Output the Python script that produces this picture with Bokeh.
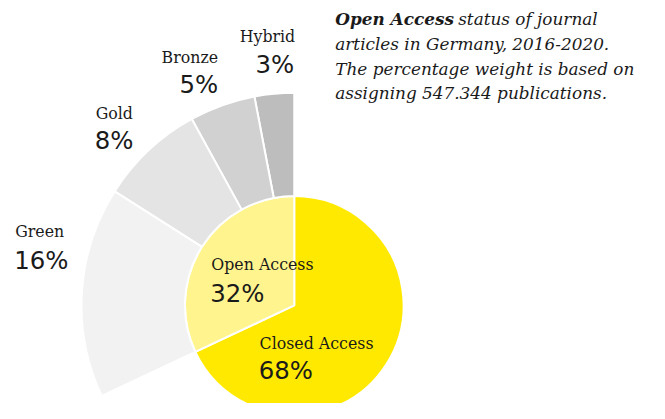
import math
from bokeh.plotting import figure
from bokeh.models import Range1d
from bokeh.core.properties import value
from bokeh.embed import file_html
from bokeh.resources import INLINE

# ---- data ----
inner_categories = ["Closed Access", "Open Access"]
inner_values = [68, 32]
outer_categories = ["Hybrid", "Bronze", "Gold", "Green"]
outer_values = [3, 5, 8, 16]
title_bold = "Open Access"
title_rest = ["status of journal", "articles in Germany, 2016-2020.",
              "The percentage weight is based on", "assigning 547.344 publications."]

# ---- styles ----
inner_colors = ["#FFE900", "#FFF48E"]
outer_colors = ["#BDBDBD", "#D1D1D1", "#E4E4E4", "#F2F2F2"]
RW, RH = 665, 419          # reference frame
W, H = 649, 403            # figure size
S = W / RW                 # screen px per reference px


def Y(py):
    return RH - py


def fs(px):
    return f"{px * S:.2f}px"


p = figure(width=W, height=H, output_backend="svg", toolbar_location=None,
           x_range=Range1d(0, RW), y_range=Range1d(0, RH), min_border=0)
p.axis.visible = False
p.grid.visible = False
p.outline_line_color = None
p.background_fill_color = "white"

cx, cy = 301, Y(317)
r_in, r_out = 112, 218
total = sum(inner_values)

# inner pie: Closed Access clockwise from 12 o'clock, Open Access the rest
start = math.pi / 2
inner_start, inner_end = [], []
cur = start
for v in inner_values:
    a = v / total * 2 * math.pi
    inner_start.append(cur - a)
    inner_end.append(cur)
    cur -= a
p.wedge(x=[cx] * 2, y=[cy] * 2, radius=r_in, start_angle=inner_start,
        end_angle=inner_end, fill_color=inner_colors, line_color="white",
        line_width=2)

# outer ring: OA breakdown, anticlockwise from 12 o'clock
o_start, o_end = [], []
cur = start
for v in outer_values:
    a = v / total * 2 * math.pi
    o_start.append(cur)
    o_end.append(cur + a)
    cur += a
p.annular_wedge(x=[cx] * 4, y=[cy] * 4, inner_radius=r_in, outer_radius=r_out,
                start_angle=o_start, end_angle=o_end, fill_color=outer_colors,
                line_color="white", line_width=2)

# labels (positions given as text baselines in reference px; drawn with
# "bottom" baseline, so add the font descent)
DESC = 0.236
label_font = value("DejaVu Serif")
num_font = value("DejaVu Sans")
txt_color = "#1a1a1a"
LS, NS, TS = 16.2, 25, 17.3
layout = {
    "Hybrid": (302, 43.3, 301, 75.7, "right"),
    "Bronze": (223, 65, 223, 96.7, "right"),
    "Gold": (97.5, 123.3, 96.5, 155, "left"),
    "Green": (15, 246.7, 14, 279, "left"),
    "Open Access": (216, 281, 215, 313.3, "left"),
    "Closed Access": (265.5, 362.3, 264.5, 394.3, "left"),
}
cats = inner_categories + outer_categories
vals = inner_values + outer_values
for c, v in zip(cats, vals):
    lx, ly, nx, ny, al = layout[c]
    p.text(x=[lx], y=[Y(ly + DESC * LS)], text=[c], text_font=label_font,
           text_font_size=fs(LS), text_align=al, text_baseline="bottom",
           text_color=txt_color)
    p.text(x=[nx], y=[Y(ny + DESC * NS)], text=[f"{v}%"], text_font=num_font,
           text_font_size=fs(NS), text_align=al, text_baseline="bottom",
           text_color=txt_color)

# title
tx = 343
p.text(x=[tx], y=[Y(26 + DESC * TS)], text=[title_bold], text_font=label_font,
       text_font_size=fs(TS), text_font_style="bold italic",
       text_baseline="bottom", text_color=txt_color)
p.text(x=[469], y=[Y(26 + DESC * TS)], text=[title_rest[0]], text_font=label_font,
       text_font_size=fs(TS), text_font_style="italic",
       text_baseline="bottom", text_color=txt_color)
for i, line in enumerate(title_rest[1:]):
    p.text(x=[tx], y=[Y(51.7 + 25.5 * i + DESC * TS)], text=[line],
           text_font=label_font, text_font_size=fs(TS),
           text_font_style="italic", text_baseline="bottom",
           text_color=txt_color)

open("out.html", "w").write(file_html(p, INLINE))
